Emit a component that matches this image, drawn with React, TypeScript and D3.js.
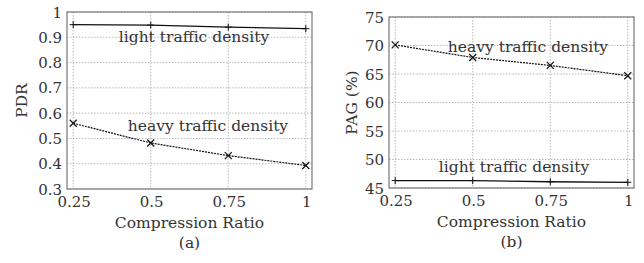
import React from "react";
import * as d3 from "d3";

const ratios = [0.25, 0.5, 0.75, 1];
const xTickLabels = ["0.25", "0.5", "0.75", "1"];

const pdrLight = [0.95, 0.948, 0.94, 0.934];
const pdrHeavy = [0.56, 0.482, 0.432, 0.393];
const pdrTicks = [0.3, 0.4, 0.5, 0.6, 0.7, 0.8, 0.9, 1];
const pdrTickLabels = ["0.3", "0.4", "0.5", "0.6", "0.7", "0.8", "0.9", "1"];

const pagHeavy = [70.1, 67.9, 66.5, 64.7];
const pagLight = [46.3, 46.3, 46.1, 46.0];
const pagTicks = [45, 50, 55, 60, 65, 70, 75];
const pagTickLabels = ["45", "50", "55", "60", "65", "70", "75"];

const FONT = "'DejaVu Serif', serif";
const INK = "#333";
const txt = {fontFamily: FONT, fontSize: 15.5, fill: INK};
const tick = {fontFamily: FONT, fontSize: 15, fill: INK};

type Series = {values: number[]; dashed: boolean; marker: "plus" | "cross"};
type Note = {text: string; x: number; y: number};

type PanelProps = {
  left: number;
  right: number;
  top: number;
  bottom: number;
  yDomain: [number, number];
  yTicks: number[];
  yTickLabels: string[];
  yLabel: string;
  yLabelX: number;
  caption: string;
  series: Series[];
  notes: Note[];
};

function Panel(p: PanelProps) {
  const x = d3.scaleLinear().domain([0.23, 1.02]).range([p.left, p.right]);
  const y = d3.scaleLinear().domain(p.yDomain).range([p.bottom, p.top]);
  const line = d3.line<number>()
    .x((d, i) => x(ratios[i]))
    .y(d => y(d));
  const cx = (p.left + p.right) / 2;

  return (
    <g>
      {ratios.map(r => (
        <line key={"gx" + r} x1={x(r)} x2={x(r)} y1={p.top} y2={p.bottom}
          stroke="#999" strokeWidth={0.7} strokeDasharray="1.5,1.5"/>
      ))}
      {p.yTicks.map(t => (
        <line key={"gy" + t} x1={p.left} x2={p.right} y1={y(t)} y2={y(t)}
          stroke="#999" strokeWidth={0.7} strokeDasharray="1.5,1.5"/>
      ))}
      <rect x={p.left} y={p.top} width={p.right - p.left} height={p.bottom - p.top}
        fill="none" stroke="#777" strokeWidth={1.2}/>
      {ratios.map((r, i) => (
        <text key={"tx" + i} x={x(r) + 1} y={p.bottom + 18} textAnchor="middle" style={tick}>
          {xTickLabels[i]}
        </text>
      ))}
      {p.yTicks.map((t, i) => (
        <text key={"ty" + i} x={p.left - 5} y={y(t) + 5.5} textAnchor="end" style={tick}>
          {p.yTickLabels[i]}
        </text>
      ))}
      <text x={cx} y={p.bottom + 39} textAnchor="middle" style={txt}>Compression Ratio</text>
      <text x={cx} y={p.bottom + 59} textAnchor="middle" style={txt}>{p.caption}</text>
      <text transform={`translate(${p.yLabelX},${(p.top + p.bottom) / 2}) rotate(-90)`}
        textAnchor="middle" style={txt}>{p.yLabel}</text>
      {p.series.map((s, k) => (
        <g key={"s" + k}>
          <path d={line(s.values) || ""} fill="none" stroke="#111"
            strokeWidth={s.dashed ? 1.2 : 1.3} strokeDasharray={s.dashed ? "2,1" : undefined}/>
          {s.values.map((v, i) => {
            const px = x(ratios[i]);
            const py = y(v);
            const m = 3.5;
            return s.marker === "plus" ? (
              <path key={i} d={`M${px - m},${py}H${px + m}M${px},${py - m}V${py + m}`}
                stroke="#111" strokeWidth={1}/>
            ) : (
              <path key={i} d={`M${px - m},${py - m}L${px + m},${py + m}M${px - m},${py + m}L${px + m},${py - m}`}
                stroke="#111" strokeWidth={1.2}/>
            );
          })}
        </g>
      ))}
      {p.notes.map((n, i) => (
        <text key={"n" + i} x={n.x} y={n.y} textAnchor="middle" style={txt}>{n.text}</text>
      ))}
    </g>
  );
}

export default function App() {
  return (
    <svg width={644} height={263} style={{position: "absolute", left: 0, top: 0, background: "#fff"}}>
      <Panel left={67} right={312} top={12} bottom={189}
        yDomain={[0.3, 1]} yTicks={pdrTicks} yTickLabels={pdrTickLabels}
        yLabel="PDR" yLabelX={27} caption="(a)"
        series={[
          {values: pdrLight, dashed: false, marker: "plus"},
          {values: pdrHeavy, dashed: true, marker: "cross"},
        ]}
        notes={[
          {text: "light traffic density", x: 194, y: 42},
          {text: "heavy traffic density", x: 208, y: 131},
        ]}/>
      <Panel left={389} right={634} top={17} bottom={188}
        yDomain={[45, 75]} yTicks={pagTicks} yTickLabels={pagTickLabels}
        yLabel="PAG (%)" yLabelX={357} caption="(b)"
        series={[
          {values: pagHeavy, dashed: true, marker: "cross"},
          {values: pagLight, dashed: false, marker: "plus"},
        ]}
        notes={[
          {text: "heavy traffic density", x: 528, y: 52},
          {text: "light traffic density", x: 514, y: 172},
        ]}/>
    </svg>
  );
}
